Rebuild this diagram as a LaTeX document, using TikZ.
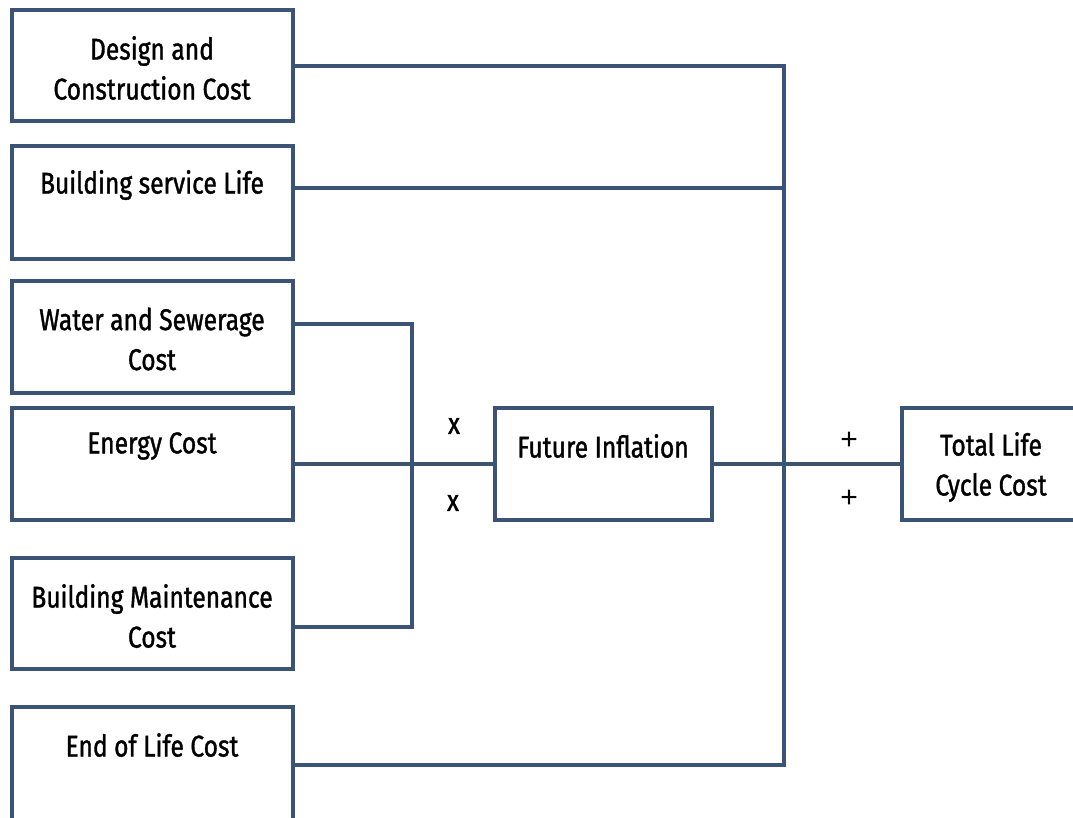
\documentclass[tikz,border=0pt]{standalone}
\usepackage{fontspec}
\setmainfont[FakeStretch=0.82, FakeBold=1.2]{Fira Sans}
\newfontfamily\plusfont{Liberation Sans}
\usetikzlibrary{calc}
\definecolor{edge}{RGB}{59,83,118}
\tikzset{
  box/.style={draw=edge, line width=4pt, rectangle, minimum width=281pt, inner sep=0pt},
  lbl/.style={align=center, font=\fontsize{30}{40}\selectfont, inner sep=0pt},
  wire/.style={draw=edge, line width=4pt},
  sign/.style={font=\fontsize{30}{30}\selectfont, inner sep=0pt},
  plus/.style={font=\plusfont\fontsize{30}{30}\selectfont, inner sep=0pt}
}
\begin{document}
\begin{tikzpicture}[x=1pt,y=-1pt]
\useasboundingbox (0,0) rectangle (1073,817);
% left boxes
\node[box, minimum height=111pt] (b1) at (152.5,65.5) {};
\node[box, minimum height=113pt] (b2) at (152.5,202.5) {};
\node[box, minimum height=112pt] (b3) at (152.5,337) {};
\node[box, minimum height=112pt] (b4) at (152.5,464) {};
\node[box, minimum height=111pt] (b5) at (152.5,613.5) {};
\node[box, minimum height=120pt] (b6) at (152.5,767) {};
\node[box, minimum width=217pt, minimum height=112pt] (f) at (603.5,464) {};
\node[box, minimum width=200pt, minimum height=112pt] (t) at (1002,464) {};
% labels
\node[lbl] (l1) at (152,68) {Design and\\Construction Cost};
\node[lbl] (l2) at (152,185) {Building service Life};
\node[lbl] (l3) at (152,339) {Water and Sewerage\\Cost};
\node[lbl] (l4) at (152,446) {Energy Cost};
\node[lbl] (l5) at (152,616) {Building Maintenance\\Cost};
\node[lbl] (l6) at (152,745) {End of Life Cost};
\node[lbl] (lf) at (603,446) {Future Inflation};
\node[lbl] (lt) at (991,467) {Total Life\\Cycle Cost};
\node[sign] (x1) at (454,426) {x};
\node[sign] (x2) at (453,503) {x};
\node[plus] (p1) at (849,441) {+};
\node[plus] (p2) at (849,499) {+};
% connectors
\coordinate (bt) at (784,65.5);
\coordinate (b2j) at (784,188);
\coordinate (bb) at (784,765);
\coordinate (wt) at (412,324);
\coordinate (wb) at (412,627);
\draw[wire] (b1.east) -- (bt) -- (bb) -- (b6.east |- bb);
\draw[wire] (b2.east |- b2j) -- (b2j);
\draw[wire] (b3.east |- wt) -- (wt) -- (wb) -- (b5.east |- wb);
\draw[wire] (b4.east) -- (f.west);
\draw[wire] (f.east) -- (t.west);
\end{tikzpicture}
\end{document}
